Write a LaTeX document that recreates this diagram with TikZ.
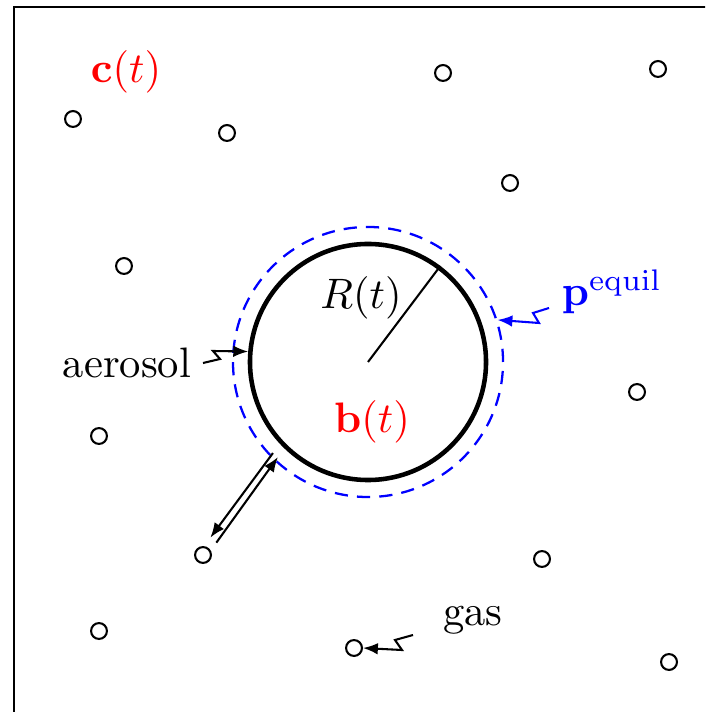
\documentclass[tikz,border=0pt]{standalone}
\usepackage{amsmath}
\usepackage{fix-cm}
\usetikzlibrary{arrows.meta,positioning,calc}
\begin{document}
\begin{tikzpicture}[x=0.0085cm, y=-0.0085cm, every node/.style={font=\fontsize{10.3}{12.4}\selectfont},
  gasdot/.style={circle, draw, line width=0.5pt, inner sep=0pt, minimum size=0.135cm},
  snake/.style={-{Latex[length=3.6pt,width=2.8pt]}, line width=0.5pt}]
  \clip (0,0) rectangle (705,712);
  % Box
  \draw[line width=0.5pt] (14,7) rectangle (740,740);
  % Particle
  \node[circle, draw=blue, line width=0.55pt, dash pattern=on 3.2pt off 2.2pt, minimum size=2.295cm] (shell) at (368,362) {};
  \node[circle, draw, line width=1.1pt, minimum size=2.006cm] (drop) at (368,362) {};
  \draw[line width=0.5pt] (drop.center) -- (drop.53);
  \node (radius) at (361,298) {$R(t)$};
  \node[red] (bulk) at (372,422) {$\mathbf{b}(t)$};
  % Gas molecules
  \node[gasdot] (g1) at (73,119) {};
  \node[gasdot] (g2) at (227,133) {};
  \node[gasdot] (g3) at (443,73) {};
  \node[gasdot] (g4) at (658,69) {};
  \node[gasdot] (g5) at (510,183) {};
  \node[gasdot] (g6) at (124,266) {};
  \node[gasdot] (g7) at (637,392) {};
  \node[gasdot] (g8) at (99,436) {};
  \node[gasdot] (g9) at (203,555) {};
  \node[gasdot] (g10) at (542,559) {};
  \node[gasdot] (g11) at (99,631) {};
  \node[gasdot] (g12) at (354,648) {};
  \node[gasdot] (g13) at (669,662) {};
  % Labels
  \node[red] (conc) at (126,72) {$\mathbf{c}(t)$};
  \node[blue] (pequil) at (612,292) {$\mathbf{p}^{\mathrm{equil}}$};
  \node (aerosol) at (127,363) {aerosol};
  \node (gas) at (473,620) {gas};
  % Pointers
  \coordinate (aerotail) at (203,363);
  \coordinate (eqtail) at (549,308);
  \coordinate (gastail) at (413,635);
  \draw[snake] (aerotail) -- ++(17,-4) -- ++(-7,-8) -- (drop.175);
  \draw[snake, blue] (eqtail) -- ++(-16,5) -- ++(6,10) -- (shell.18);
  \draw[snake] (gastail) -- ++(-18,5) -- ++(7,10) -- (g12.east);
  % Exchange
  \draw[snake] ([shift={(-10,6)}]drop.225) -- ([shift={(1,-11)}]g9.45);
  \draw[snake] ([shift={(7,-6)}]g9.45) -- ([shift={(-5,10)}]drop.225);
\end{tikzpicture}
\end{document}
